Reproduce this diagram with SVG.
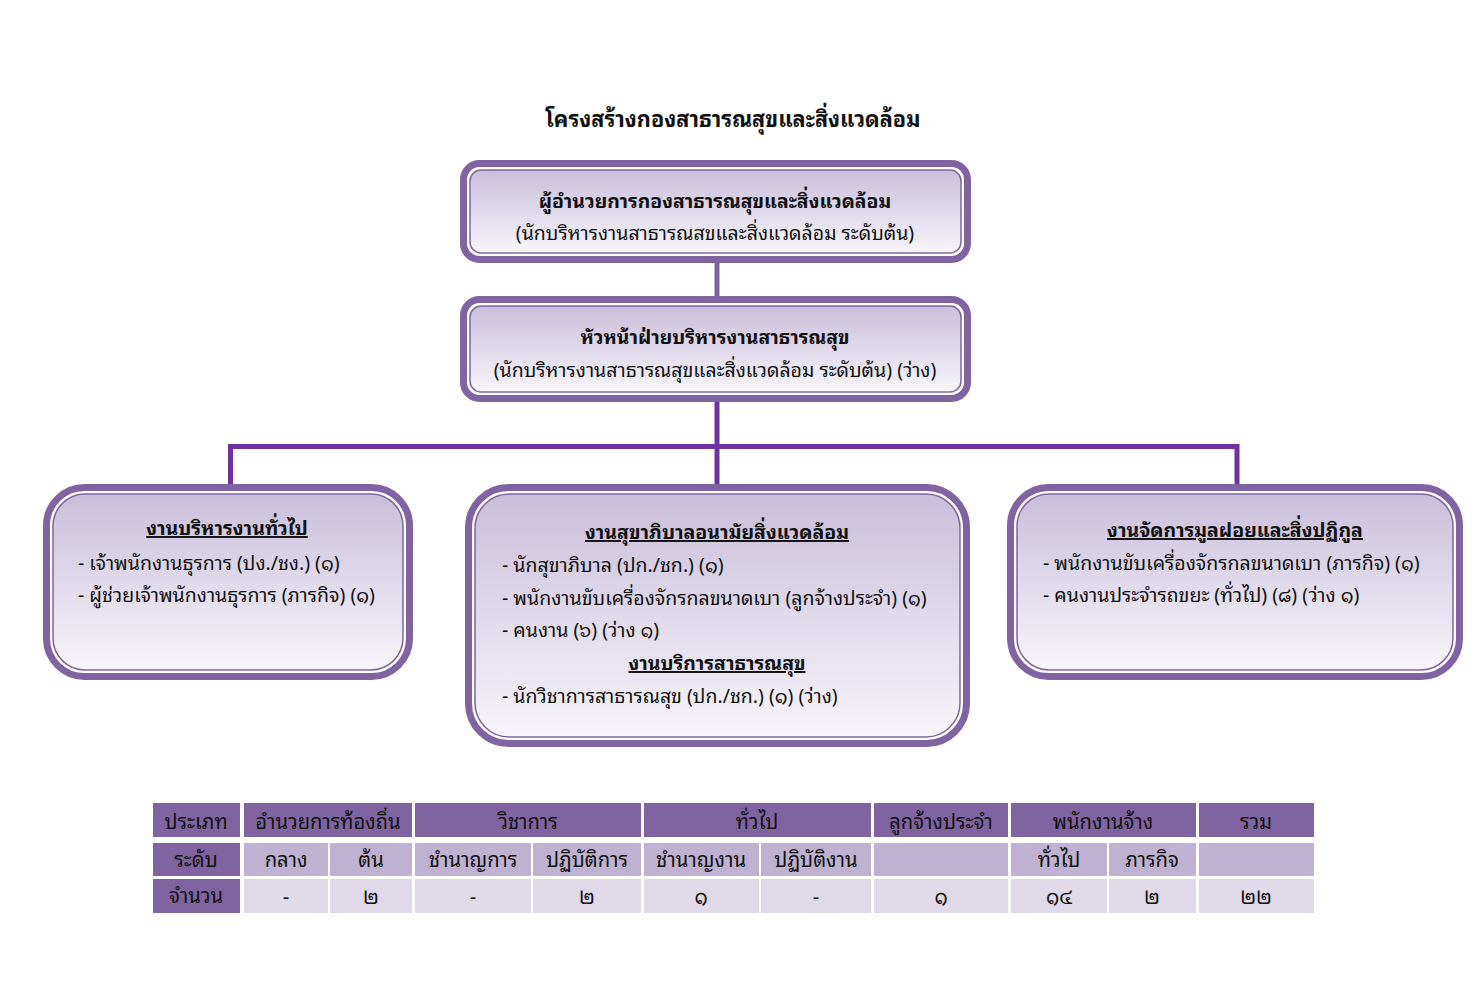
<svg xmlns="http://www.w3.org/2000/svg" width="1477" height="995" viewBox="0 0 1477 995">
<defs>
<linearGradient id="fillg" x1="0" y1="0" x2="0" y2="1">
<stop offset="0" stop-color="#c9bedb"/>
<stop offset="1" stop-color="#f7f5fa"/>
</linearGradient>
<style>
.t{font-family:"Noto Sans Thai Looped",Loma,Garuda,"Noto Sans Thai","Noto Sans","DejaVu Sans",sans-serif;fill:#111;}
.title{font-size:21.7px;font-weight:bold;text-anchor:middle;}
.h{font-size:19.4px;font-weight:bold;text-anchor:middle;}
.s{font-size:19.5px;text-anchor:middle;}
.u{font-size:19.5px;font-weight:bold;text-anchor:middle;text-decoration:underline;}
.l{font-size:19.5px;}
.outer{fill:#fff;stroke:#8064a2;stroke-width:7;}
.inner{fill:url(#fillg);stroke:#8064a2;stroke-width:1.5;}
.c1{stroke:#8064a2;stroke-width:5;fill:none;}
.c2{stroke:#7030a0;stroke-width:5;fill:none;}
.hd{fill:#8064a2;}
.r2{fill:#bfb1d1;}
.r3{fill:#dfd9e8;}
.tc{font-family:"Noto Sans Thai Looped",Loma,Garuda,"Noto Sans Thai","Noto Sans","DejaVu Sans",sans-serif;font-size:20.2px;fill:#111;text-anchor:middle;}
</style>
</defs>
<rect width="1477" height="995" fill="#fff"/>
<text class="t title" x="733" y="127">โครงสร้างกองสาธารณสุขและสิ่งแวดล้อม</text>
<g id="connectors">
<line class="c1" x1="717" y1="260" x2="717" y2="300"/>
<line class="c2" x1="717" y1="400" x2="717" y2="488"/>
<polyline class="c2" points="230.5,488 230.5,446.5 1237,446.5 1237,488"/>
</g>
<g id="director">
<rect class="outer" x="463.5" y="163.5" width="504" height="96" rx="16"/>
<rect class="inner" x="470" y="170" width="491" height="83" rx="11"/>
<text class="t h" x="715" y="208">ผู้อำนวยการกองสาธารณสุขและสิ่งแวดล้อม</text>
<text class="t s" x="715" y="240">(นักบริหารงานสาธารณสขและสิ่งแวดล้อม ระดับต้น)</text>
</g>
<g id="head">
<rect class="outer" x="463.5" y="299.5" width="504" height="99" rx="16"/>
<rect class="inner" x="470" y="306" width="491" height="86" rx="11"/>
<text class="t h" x="715" y="344">หัวหน้าฝ่ายบริหารงานสาธารณสุข</text>
<text class="t s" x="715" y="377">(นักบริหารงานสาธารณสุขและสิ่งแวดล้อม ระดับต้น) (ว่าง)</text>
</g>
<g id="general">
<rect class="outer" x="46.5" y="487.5" width="363" height="189" rx="38"/>
<rect class="inner" x="53" y="494" width="350" height="176" rx="32"/>
<text class="t u" x="227" y="535">งานบริหารงานทั่วไป</text>
<text class="t l" x="78" y="570">- เจ้าพนักงานธุรการ (ปง./ชง.) (๑)</text>
<text class="t l" x="78" y="602">- ผู้ช่วยเจ้าพนักงานธุรการ (ภารกิจ) (๑)</text>
</g>
<g id="sanitation">
<rect class="outer" x="468.5" y="487.5" width="498" height="256" rx="40"/>
<rect class="inner" x="475" y="494" width="485" height="243" rx="34"/>
<text class="t u" x="717" y="539">งานสุขาภิบาลอนามัยสิ่งแวดล้อม</text>
<text class="t l" x="502" y="572">- นักสุขาภิบาล (ปก./ชก.) (๑)</text>
<text class="t l" x="502" y="605">- พนักงานขับเครื่องจักรกลขนาดเบา (ลูกจ้างประจำ) (๑)</text>
<text class="t l" x="502" y="637">- คนงาน (๖) (ว่าง ๑)</text>
<text class="t u" x="717" y="670">งานบริการสาธารณสุข</text>
<text class="t l" x="502" y="703">- นักวิชาการสาธารณสุข (ปก./ชก.) (๑) (ว่าง)</text>
</g>
<g id="waste">
<rect class="outer" x="1010.5" y="487.5" width="449" height="189" rx="38"/>
<rect class="inner" x="1017" y="494" width="436" height="176" rx="32"/>
<text class="t u" x="1235" y="537">งานจัดการมูลฝอยและสิ่งปฏิกูล</text>
<text class="t l" x="1043" y="570">- พนักงานขับเครื่องจักรกลขนาดเบา (ภารกิจ) (๑)</text>
<text class="t l" x="1043" y="602">- คนงานประจำรถขยะ (ทั่วไป) (๘) (ว่าง ๑)</text>
</g>
<g id="table">
<rect class="hd" x="153" y="803" width="87" height="34"/>
<rect class="hd" x="244" y="803" width="168" height="34"/>
<rect class="hd" x="415" y="803" width="226" height="34"/>
<rect class="hd" x="644" y="803" width="227" height="34"/>
<rect class="hd" x="874" y="803" width="134" height="34"/>
<rect class="hd" x="1011" y="803" width="185" height="34"/>
<rect class="hd" x="1199" y="803" width="115" height="34"/>
<rect class="hd" x="153" y="843" width="87" height="33"/>
<rect class="r2" x="244" y="843" width="84" height="33"/>
<rect class="r2" x="330" y="843" width="82" height="33"/>
<rect class="r2" x="415" y="843" width="116" height="33"/>
<rect class="r2" x="533" y="843" width="108" height="33"/>
<rect class="r2" x="644" y="843" width="115" height="33"/>
<rect class="r2" x="761" y="843" width="110" height="33"/>
<rect class="r2" x="874" y="843" width="134" height="33"/>
<rect class="r2" x="1011" y="843" width="96" height="33"/>
<rect class="r2" x="1109" y="843" width="87" height="33"/>
<rect class="r2" x="1199" y="843" width="115" height="33"/>
<rect class="hd" x="153" y="879" width="87" height="34"/>
<rect class="r3" x="244" y="879" width="84" height="34"/>
<rect class="r3" x="330" y="879" width="82" height="34"/>
<rect class="r3" x="415" y="879" width="116" height="34"/>
<rect class="r3" x="533" y="879" width="108" height="34"/>
<rect class="r3" x="644" y="879" width="115" height="34"/>
<rect class="r3" x="761" y="879" width="110" height="34"/>
<rect class="r3" x="874" y="879" width="134" height="34"/>
<rect class="r3" x="1011" y="879" width="96" height="34"/>
<rect class="r3" x="1109" y="879" width="87" height="34"/>
<rect class="r3" x="1199" y="879" width="115" height="34"/>
<text class="tc" x="196" y="829">ประเภท</text>
<text class="tc" x="328" y="829">อำนวยการท้องถิ่น</text>
<text class="tc" x="528" y="829">วิชาการ</text>
<text class="tc" x="757" y="829">ทั่วไป</text>
<text class="tc" x="941" y="829">ลูกจ้างประจำ</text>
<text class="tc" x="1103" y="829">พนักงานจ้าง</text>
<text class="tc" x="1256" y="829">รวม</text>
<text class="tc" x="196" y="867">ระดับ</text>
<text class="tc" x="286" y="867">กลาง</text>
<text class="tc" x="371" y="867">ต้น</text>
<text class="tc" x="473" y="867">ชำนาญการ</text>
<text class="tc" x="587" y="867">ปฏิบัติการ</text>
<text class="tc" x="701" y="867">ชำนาญงาน</text>
<text class="tc" x="816" y="867">ปฏิบัติงาน</text>
<text class="tc" x="1059" y="867">ทั่วไป</text>
<text class="tc" x="1152" y="867">ภารกิจ</text>
<text class="tc" x="196" y="903">จำนวน</text>
<text class="tc" x="286" y="904">-</text>
<text class="tc" x="371" y="904">๒</text>
<text class="tc" x="473" y="904">-</text>
<text class="tc" x="587" y="904">๒</text>
<text class="tc" x="701" y="904">๑</text>
<text class="tc" x="816" y="904">-</text>
<text class="tc" x="941" y="904">๑</text>
<text class="tc" x="1059" y="904">๑๔</text>
<text class="tc" x="1152" y="904">๒</text>
<text class="tc" x="1256" y="904">๒๒</text>
</g>
</svg>
